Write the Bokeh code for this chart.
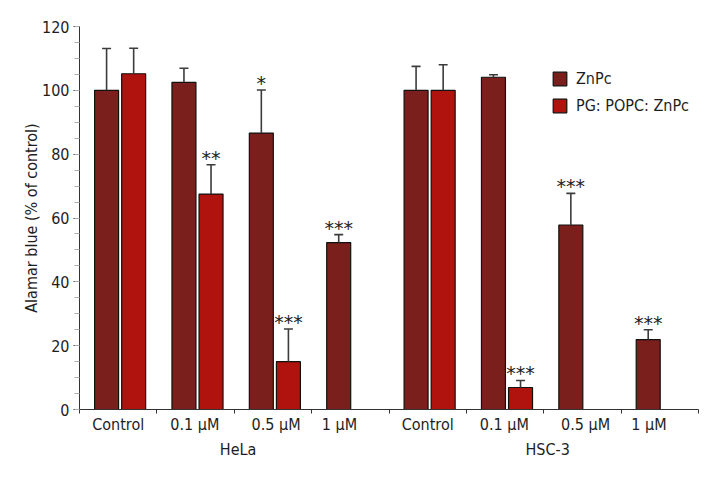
from bokeh.plotting import figure
from bokeh.models import (Range1d, FixedTicker, SingleIntervalTicker, LinearAxis,
                          ColumnDataSource, Legend, LegendItem)
from bokeh.core.properties import value
from bokeh.embed import file_html
from bokeh.resources import INLINE

# ---------------- data ----------------
cell_lines = ["HeLa", "HSC-3"]
concentrations = ["Control", "0.1 µM", "0.5 µM", "1 µM"]
series_names = ["ZnPc", "PG: POPC: ZnPc"]

znpc_values = [100.0, 102.5, 86.6, 52.3, 100.0, 104.1, 57.8, 21.9]
znpc_errors = [13.1, 4.4, 13.5, 2.5, 7.5, 0.8, 9.9, 3.1]
znpc_signif = ["", "", "*", "***", "", "", "***", "***"]

pg_values = [105.2, 67.5, 15.0, None, 100.0, 6.9, None, None]
pg_errors = [8.0, 9.2, 10.2, None, 8.0, 2.2, None, None]
pg_signif = ["", "**", "***", "", "", "***", "", ""]

# ---------------- style ----------------
FONT = "'DejaVu Sans Condensed', 'Liberation Sans Narrow', sans-serif"
FS = "16px"
C_ZNPC = "#7a1f1b"
C_PG = "#b0120e"
C_TEXT = "#1e1e1e"
C_ERR = "#3c3c3c"
BAR_W = 0.31
OFF_ZNPC = 0.35
OFF_PG = 0.70
label_offsets = [0.50, 0.49, 0.54, 0.36]
group_offset = 2.05

n = len(cell_lines) * len(concentrations)
slots = list(range(n))


def build(vals, errs, sig, off):
    d = dict(x=[], top=[], etop=[], sig=[])
    for i, v, e, s in zip(slots, vals, errs, sig):
        if v is None:
            continue
        d["x"].append(i + off)
        d["top"].append(v)
        d["etop"].append(v + e)
        d["sig"].append(s)
    return ColumnDataSource(d)


src_z = build(znpc_values, znpc_errors, znpc_signif, OFF_ZNPC)
src_p = build(pg_values, pg_errors, pg_signif, OFF_PG)

p = figure(frame_width=619, frame_height=383, output_backend="svg",
           toolbar_location=None, x_range=Range1d(0, n), y_range=Range1d(0, 120),
           min_border_left=79, min_border_top=26, min_border_right=14,
           min_border_bottom=62, x_axis_type=None, y_axis_type=None)
p.outline_line_color = None
p.xgrid.visible = False
p.ygrid.visible = False
p.background_fill_color = "white"
p.border_fill_color = "white"

rz = p.vbar(x="x", top="top", width=BAR_W, bottom=0, source=src_z,
            fill_color=C_ZNPC, line_color="#111111", line_width=1.2)
rp = p.vbar(x="x", top="top", width=BAR_W, bottom=0, source=src_p,
            fill_color=C_PG, line_color="#111111", line_width=1.2)

for src in (src_z, src_p):
    p.segment(x0="x", y0="top", x1="x", y1="etop", source=src,
              line_color=C_ERR, line_width=1.6)
    p.scatter(x="x", y="etop", marker="dash", size=9, source=src,
              line_color=C_ERR, line_width=1.6)
    p.text(x="x", y="etop", text="sig", source=src, text_align="center",
           text_baseline="alphabetic", y_offset=-7,
           text_font=value("DejaVu Sans"), text_font_size="19px",
           text_color=C_TEXT)

# y axis
yax = LinearAxis(ticker=SingleIntervalTicker(interval=20, num_minor_ticks=4))
yax.axis_label = "Alamar blue (% of control)"
yax.axis_label_text_font = FONT
yax.axis_label_text_font_size = FS
yax.axis_label_text_font_style = "normal"
yax.axis_label_text_color = C_TEXT
yax.axis_label_standoff = -2
yax.major_label_text_font = FONT
yax.major_label_text_font_size = FS
yax.major_label_text_color = C_TEXT
yax.major_label_standoff = 4
yax.major_tick_out = 6
yax.major_tick_in = 0
yax.minor_tick_out = 5
yax.minor_tick_in = 0
yax.minor_tick_line_color = "#b0b0b0"
yax.axis_line_color = "#333333"
yax.major_tick_line_color = "#333333"
p.add_layout(yax, "left")

# x axis: category labels, slot boundaries as minor ticks
label_pos = []
overrides = {}
for g in range(len(cell_lines)):
    for k, c in enumerate(concentrations):
        pos = round(g * len(concentrations) + k + label_offsets[k], 3)
        label_pos.append(pos)
        overrides[pos] = c
xax = LinearAxis(ticker=FixedTicker(ticks=label_pos, minor_ticks=list(range(n + 1))))
xax.major_label_overrides = overrides
xax.major_label_text_font = FONT
xax.major_label_text_font_size = FS
xax.major_label_text_color = C_TEXT
xax.major_label_standoff = 1
xax.major_tick_out = 0
xax.major_tick_in = 0
xax.major_tick_line_color = None
xax.minor_tick_out = 4
xax.minor_tick_in = 0
xax.minor_tick_line_color = "#333333"
xax.axis_line_color = "#333333"
p.add_layout(xax, "below")

# group labels
gpos = [round(g * len(concentrations) + group_offset, 3) for g in range(len(cell_lines))]
gax = LinearAxis(ticker=FixedTicker(ticks=gpos, minor_ticks=[]))
gax.major_label_overrides = {pp: name for pp, name in zip(gpos, cell_lines)}
gax.major_label_text_font = FONT
gax.major_label_text_font_size = FS
gax.major_label_text_color = C_TEXT
gax.major_label_standoff = 3
gax.major_tick_out = 0
gax.major_tick_in = 0
gax.major_tick_line_color = None
gax.axis_line_color = None
p.add_layout(gax, "below")

legend = Legend(items=[LegendItem(label=series_names[0], renderers=[rz]),
                       LegendItem(label=series_names[1], renderers=[rp])],
                location=(472, 294), padding=0, margin=0, spacing=8,
                glyph_width=17, glyph_height=17, label_height=17,
                label_standoff=8, border_line_color=None,
                background_fill_alpha=0)
legend.label_text_font = FONT
legend.label_text_font_size = FS
legend.label_text_color = C_TEXT
p.add_layout(legend, "center")

open("out.html", "w").write(file_html(p, INLINE))
